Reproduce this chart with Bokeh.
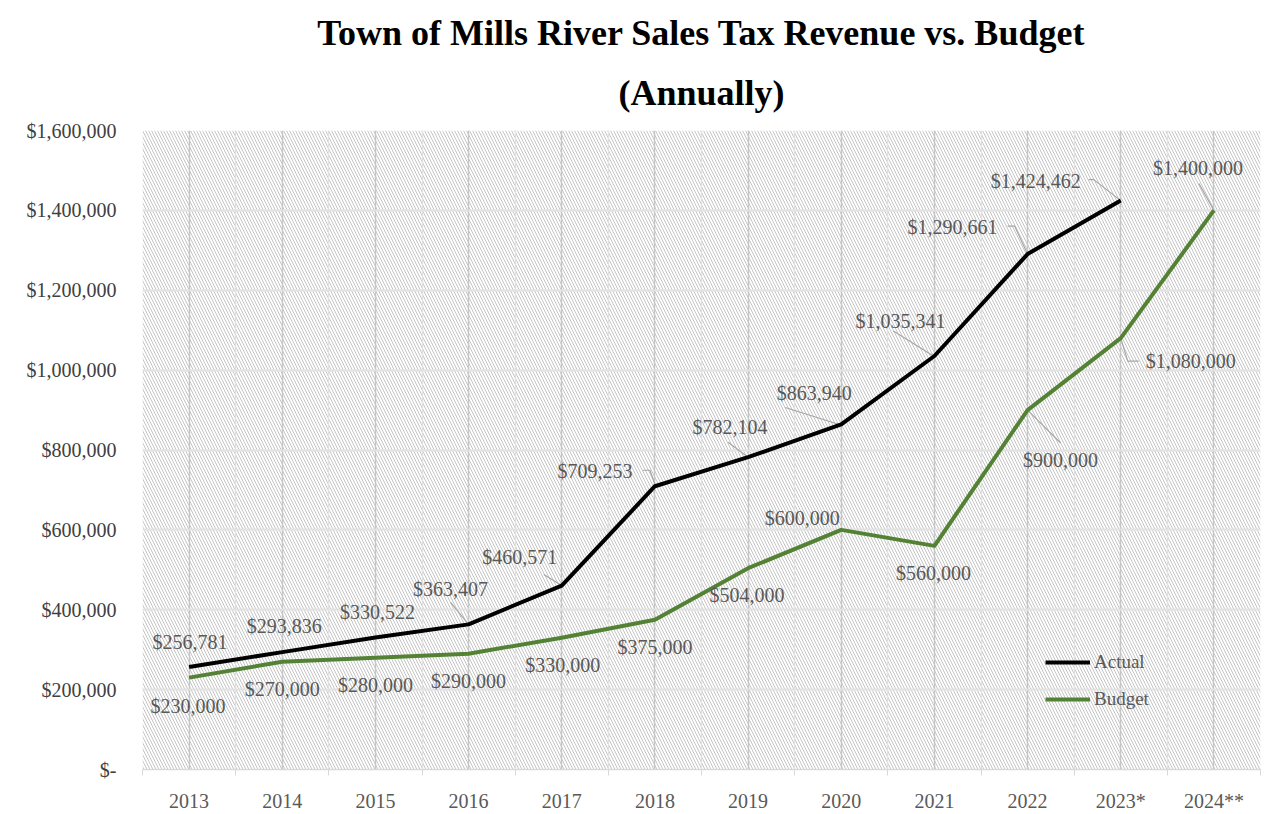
from bokeh.plotting import figure
from bokeh.models import (FixedTicker, BoxAnnotation, Legend, LegendItem, Range1d, Title)
from bokeh.embed import file_html
from bokeh.resources import INLINE
from bokeh.core.properties import value

# ---------------- data ----------------
years = ["2013", "2014", "2015", "2016", "2017", "2018", "2019", "2020",
         "2021", "2022", "2023*", "2024**"]
actual = [256781, 293836, 330522, 363407, 460571, 709253, 782104, 863940,
          1035341, 1290661, 1424462]
budget = [230000, 270000, 280000, 290000, 330000, 375000, 504000, 600000,
          560000, 900000, 1080000, 1400000]
y_ticks = [0, 200000, 400000, 600000, 800000, 1000000, 1200000, 1400000, 1600000]
y_tick_labels = ["$-", "$200,000", "$400,000", "$600,000", "$800,000",
                 "$1,000,000", "$1,200,000", "$1,400,000", "$1,600,000"]
title_lines = ["Town of Mills River Sales Tax Revenue vs. Budget", "(Annually)"]

# ---------------- layout / style ----------------
W, H = 1282, 814
FL, FR, FT, FB = 142, 1260, 130, 770
PX_X = len(years) / (FR - FL)
PX_Y = 1600000 / (FB - FT)

SERIF = "Liberation Serif"
LABEL_COLOR = "#595959"
GREEN = "#548235"

actual_lab = [(1, -25), (2, -26), (2, -25), (-18, -35), (-42, -29), (-60, -15),
              (-18, -30), (-27, -31), (-34, -35), (-75, -27), (-85, -20)]
actual_lead = {3: [(-18, -22), (0, 0)], 4: [(-18, -11), (0, 0)],
               5: [(-12, -16), (-5, -16), (0, -2)], 6: [(-20, -15), (0, 0)],
               7: [(-56, -17), (-2, 0)], 8: [(-41, -25), (-1, 0)],
               9: [(-20, -28), (-13, -28), (0, 0)], 10: [(-32, -21), (-27, -21), (0, 0)]}
budget_lab = [(-1, 28), (0, 27), (0, 27), (0, 27), (1, 27), (0, 27), (-1, 27),
              (-39, -12), (-1, 27), (33, 50), (70, 23), (-16, -42)]
budget_lead = {9: [(0, 0), (33, 33)], 10: [(0, 0), (7, 23), (18, 23)],
               11: [(0, 0), (-15, -27)]}

xs_all = list(range(len(years)))

p = figure(width=W, height=H, output_backend="svg", toolbar_location=None,
           x_range=Range1d(-0.5, len(years) - 0.5), y_range=Range1d(0, 1600000),
           min_border_left=FL, min_border_right=W - FR,
           min_border_top=FT, min_border_bottom=H - FB,
           background_fill_color="white", border_fill_color="white",
           outline_line_color=None)

def style_title(t, standoff):
    t.align = "center"
    t.text_font = SERIF
    t.text_font_style = "bold"
    t.text_font_size = "36px"
    t.text_color = "black"
    t.standoff = standoff

# p.title is the outermost line, the added Title sits next to the frame
p.title.text = title_lines[0]
style_title(p.title, 0)
t2 = Title(text=title_lines[1])
style_title(t2, 36)
p.add_layout(t2, "above")

# hatch background
p.add_layout(BoxAnnotation(level="image", fill_color="white", fill_alpha=1.0,
                           line_color=None, hatch_pattern="\\",
                           hatch_color="#c4c4c4", hatch_scale=6, hatch_weight=1))

# axes
p.xaxis.ticker = FixedTicker(ticks=xs_all,
                             minor_ticks=[i - 0.5 for i in range(len(years) + 1)])
p.xaxis.major_label_overrides = {i: y for i, y in enumerate(years)}
p.xaxis.axis_line_color = "#d9d9d9"
p.xaxis.axis_line_width = 1.5
p.xaxis.major_tick_line_color = None
p.xaxis.major_tick_out = 0
p.xaxis.major_tick_in = 0
p.xaxis.minor_tick_line_color = "#d9d9d9"
p.xaxis.minor_tick_out = 6
p.xaxis.minor_tick_in = 0
p.xaxis.major_label_text_font = SERIF
p.xaxis.major_label_text_font_size = "20px"
p.xaxis.major_label_text_color = LABEL_COLOR
p.xaxis.major_label_standoff = 14

p.yaxis.ticker = FixedTicker(ticks=y_ticks)
p.yaxis.major_label_overrides = {t: l for t, l in zip(y_ticks, y_tick_labels)}
p.yaxis.axis_line_color = None
p.yaxis.major_tick_line_color = None
p.yaxis.minor_tick_line_color = None
p.yaxis.major_label_text_font = SERIF
p.yaxis.major_label_text_font_size = "20px"
p.yaxis.major_label_text_color = "#404040"
p.yaxis.major_label_standoff = 20

# grids
p.xgrid.grid_line_color = "#c6c6c6"
p.xgrid.grid_line_width = 1.5
p.xgrid.minor_grid_line_color = "#e2e2e2"
p.xgrid.minor_grid_line_width = 1.5
p.ygrid.grid_line_color = "#e2e2e2"
p.ygrid.grid_line_width = 2

# leader lines
lead_xs, lead_ys = [], []
for series, leads in ((actual, actual_lead), (budget, budget_lead)):
    for i, pts in leads.items():
        lead_xs.append([i + ox * PX_X for ox, oy in pts])
        lead_ys.append([series[i] - oy * PX_Y for ox, oy in pts])
p.multi_line(lead_xs, lead_ys, line_color="#a6a6a6", line_width=1.2)

# lines
r_act = p.line(xs_all[:len(actual)], actual, line_color="black", line_width=4,
               line_join="round")
r_bud = p.line(xs_all[:len(budget)], budget, line_color=GREEN, line_width=4,
               line_join="round")

# data labels
def fmt(v):
    return "${:,}".format(v)

for series, labs in ((actual, actual_lab), (budget, budget_lab)):
    p.text(x=xs_all[:len(series)], y=series, text=[fmt(v) for v in series],
           x_offset=[d[0] for d in labs], y_offset=[d[1] for d in labs],
           text_align="center", text_baseline="middle",
           text_font=value(SERIF), text_font_size="20px", text_color=LABEL_COLOR)

legend = Legend(items=[LegendItem(label="Actual", renderers=[r_act]),
                       LegendItem(label="Budget", renderers=[r_bud])],
                location=(1045 - FL, FB - 715), orientation="vertical",
                padding=0, margin=0, spacing=7, glyph_width=45, glyph_height=30,
                label_standoff=4, background_fill_alpha=0, border_line_color=None,
                label_text_font=SERIF, label_text_font_size="19px",
                label_text_color=LABEL_COLOR)
p.add_layout(legend)

open("out.html", "w").write(file_html(p, INLINE))
